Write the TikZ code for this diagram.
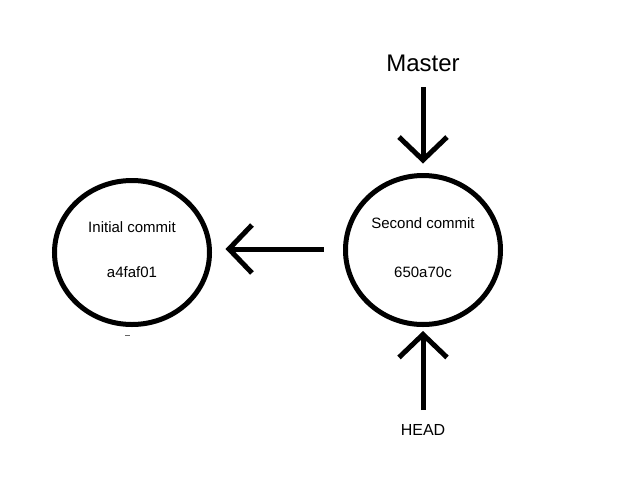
\documentclass[tikz,border=0pt]{standalone}
\usepackage{fontspec}
\setmainfont{Liberation Sans}
\usetikzlibrary{arrows.meta,shapes.geometric}
\begin{document}
\begin{tikzpicture}[x=1pt,y=-1pt,
  commit/.style={draw=black,line width=5pt,ellipse,inner sep=0pt},
  lbl/.style={inner sep=0pt,font=\fontsize{15}{18}\selectfont},
  arr/.style={line width=5pt,arrows={-Straight Barb[length=23pt,width=48pt,line width=5pt]}}]
\fill[white] (0,0) rectangle (640,480);
\useasboundingbox (0,0) rectangle (640,480);
\node[commit,minimum width=155pt,minimum height=144pt] (c1) at (132,252.5) {};
\node[commit,minimum width=155pt,minimum height=149pt] (c2) at (423,250) {};
\node[lbl] (t1) at (132,227) {Initial commit};
\node[lbl] (h1) at (132,272) {a4faf01};
\node[lbl] (t2) at (423,223) {Second commit};
\node[lbl] (h2) at (423,272) {650a70c};
\node[inner sep=0pt,font=\fontsize{24}{28}\selectfont] (master) at (423,63) {Master};
\node[inner sep=0pt,font=\fontsize{16}{19}\selectfont] (head) at (423,430) {HEAD};
\draw[arr] ([shift={(0,24)}]master.center) -- ([shift={(0,-9.5)}]c2.north);
\draw[arr] ([shift={(0,-20)}]head.center) -- ([shift={(0,4)}]c2.south);
\draw[arr] ([shift={(-19.5,-1)}]c2.west) -- ([shift={(13.5,-3.5)}]c1.east);
\draw[black!60,line width=1pt] (125,335) -- (130,335);
\end{tikzpicture}
\end{document}
